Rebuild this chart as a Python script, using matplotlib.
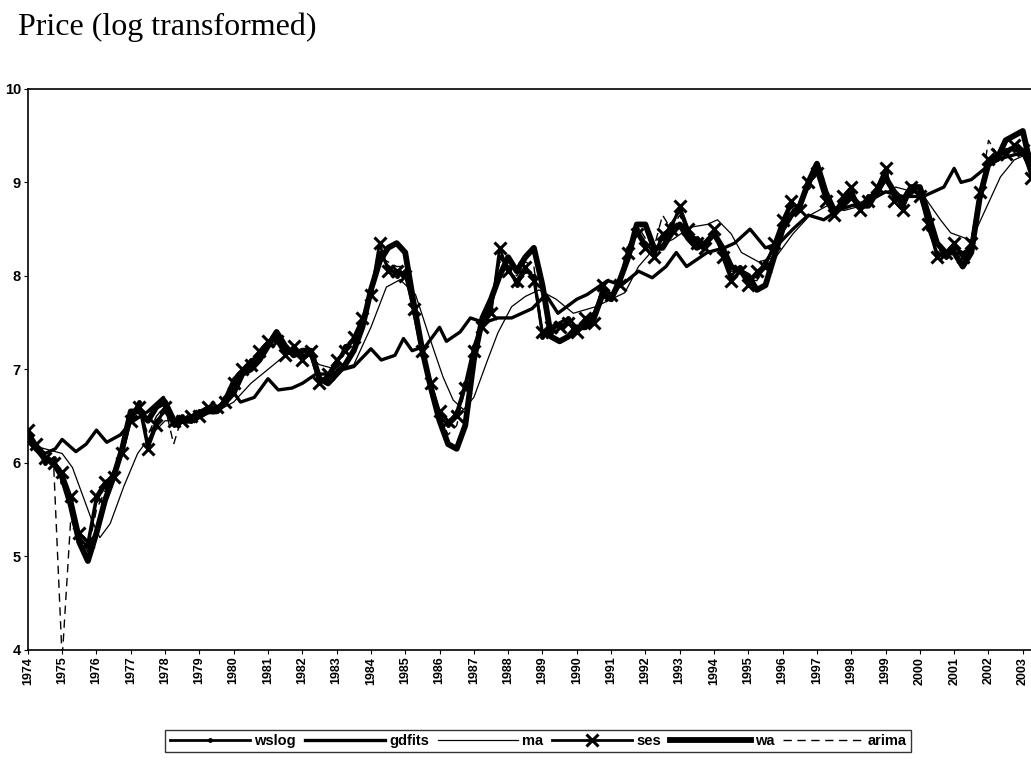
import numpy as np
import matplotlib
matplotlib.use("Agg")
import matplotlib.pyplot as plt

# quarterly grid 1974.00 .. 2003.50
t = np.arange(1974.0, 2003.51, 0.25)

wslog = [6.30, 6.15, 6.00, 6.05, 5.80, 5.60, 5.20, 5.10, 5.60, 5.75, 5.90, 6.15,
         6.50, 6.65, 6.20, 6.45, 6.55, 6.40, 6.50, 6.45, 6.55, 6.60, 6.55, 6.70,
         6.90, 7.00, 7.10, 7.15, 7.30, 7.35, 7.20, 7.20, 7.15, 7.15, 6.85, 6.90,
         7.05, 7.25, 7.30, 7.50, 7.85, 8.25, 8.10, 8.00, 8.05, 7.60, 7.15, 6.80,
         6.50, 6.40, 6.55, 6.85, 7.25, 7.50, 7.65, 8.20, 8.10, 7.90, 8.05, 8.00,
         7.35, 7.40, 7.50, 7.55, 7.45, 7.50, 7.60, 7.85, 7.75, 7.95, 8.30, 8.50,
         8.35, 8.25, 8.40, 8.55, 8.70, 8.45, 8.40, 8.35, 8.45, 8.25, 8.00, 8.10,
         7.95, 8.00, 8.15, 8.30, 8.55, 8.75, 8.75, 8.95, 9.15, 8.85, 8.70, 8.80,
         8.90, 8.75, 8.85, 8.90, 9.10, 8.85, 8.75, 8.90, 8.90, 8.50, 8.25, 8.20,
         8.30, 8.25, 8.30, 8.85, 9.20, 9.25, 9.35, 9.35, 9.30, 9.10, 8.95]

ses = [6.35, 6.20, 6.05, 6.00, 5.90, 5.65, 5.25, 5.15, 5.65, 5.80, 5.85, 6.10,
       6.45, 6.60, 6.15, 6.40, 6.60, 6.45, 6.45, 6.50, 6.50, 6.60, 6.60, 6.65,
       6.85, 7.00, 7.05, 7.20, 7.30, 7.30, 7.15, 7.25, 7.10, 7.20, 6.85, 6.95,
       7.10, 7.20, 7.35, 7.55, 7.80, 8.35, 8.05, 8.05, 8.00, 7.65, 7.20, 6.85,
       6.55, 6.45, 6.50, 6.80, 7.20, 7.45, 7.60, 8.30, 8.05, 7.95, 8.10, 7.95,
       7.40, 7.45, 7.45, 7.50, 7.40, 7.55, 7.50, 7.90, 7.80, 7.90, 8.25, 8.45,
       8.30, 8.20, 8.45, 8.50, 8.75, 8.50, 8.35, 8.30, 8.50, 8.20, 7.95, 8.05,
       7.90, 8.05, 8.10, 8.35, 8.60, 8.80, 8.70, 9.00, 9.10, 8.80, 8.65, 8.85,
       8.95, 8.70, 8.80, 8.95, 9.15, 8.80, 8.70, 8.95, 8.85, 8.55, 8.20, 8.25,
       8.35, 8.20, 8.35, 8.90, 9.25, 9.30, 9.30, 9.40, 9.35, 9.05, 8.90]

wa = [6.25, 6.15, 6.05, 6.00, 5.85, 5.55, 5.15, 4.95, 5.25, 5.60, 5.85, 6.15,
      6.55, 6.55, 6.45, 6.60, 6.65, 6.45, 6.45, 6.45, 6.50, 6.55, 6.55, 6.65,
      6.75, 6.95, 7.00, 7.10, 7.25, 7.40, 7.25, 7.15, 7.20, 7.20, 6.90, 6.85,
      6.95, 7.05, 7.20, 7.45, 7.85, 8.15, 8.30, 8.35, 8.25, 7.70, 7.20, 6.80,
      6.45, 6.20, 6.15, 6.40, 7.10, 7.55, 7.75, 8.00, 8.20, 8.05, 8.20, 8.30,
      7.90, 7.35, 7.30, 7.35, 7.45, 7.45, 7.55, 7.80, 7.75, 7.95, 8.20, 8.55,
      8.55, 8.30, 8.30, 8.45, 8.55, 8.40, 8.30, 8.35, 8.45, 8.30, 8.10, 8.05,
      8.00, 7.85, 7.90, 8.20, 8.50, 8.65, 8.75, 9.00, 9.20, 8.90, 8.70, 8.75,
      8.85, 8.75, 8.75, 8.90, 9.05, 8.90, 8.80, 8.95, 8.95, 8.65, 8.35, 8.25,
      8.25, 8.10, 8.25, 8.85, 9.20, 9.25, 9.45, 9.50, 9.55, 9.15, 9.00]

arima = [6.25, 6.20, 6.05, 6.00, 3.90, 5.40, 5.20, 5.05, 5.50, 5.70, 5.90, 6.10,
         6.50, 6.60, 6.30, 6.50, 6.60, 6.20, 6.50, 6.45, 6.50, 6.60, 6.55, 6.65,
         6.80, 7.00, 7.05, 7.15, 7.30, 7.35, 7.20, 7.20, 7.15, 7.20, 6.90, 6.90,
         7.00, 7.20, 7.30, 7.50, 7.80, 8.20, 8.15, 8.10, 8.10, 7.70, 7.20, 6.80,
         6.50, 6.30, 6.40, 6.80, 7.20, 7.50, 7.70, 8.15, 8.10, 8.00, 8.15, 8.10,
         7.40, 7.35, 7.45, 7.50, 7.45, 7.50, 7.55, 7.85, 7.80, 7.95, 8.25, 8.55,
         8.40, 8.30, 8.65, 8.50, 8.65, 8.45, 8.35, 8.35, 8.45, 8.25, 8.05, 8.05,
         7.95, 7.95, 8.10, 8.30, 8.55, 8.70, 8.75, 9.00, 9.15, 8.85, 8.70, 8.80,
         8.90, 8.75, 8.80, 8.90, 9.10, 8.85, 8.75, 8.90, 8.90, 8.55, 8.30, 8.20,
         8.30, 8.20, 8.30, 8.85, 9.45, 9.30, 9.35, 9.40, 9.35, 9.10, 8.95]

gd_t = [1974.0, 1974.5, 1974.8, 1975.0, 1975.4, 1975.7, 1976.0, 1976.3, 1976.7, 1977.0,
        1977.5, 1977.95, 1978.3, 1978.8, 1979.3, 1979.8, 1980.0, 1980.2, 1980.6, 1981.0,
        1981.3, 1981.7, 1982.0, 1982.4, 1982.8, 1983.2, 1983.5, 1984.0, 1984.3, 1984.7,
        1984.95, 1985.2, 1985.6, 1986.0, 1986.2, 1986.6, 1986.9, 1987.3, 1987.7, 1988.1,
        1988.7, 1989.1, 1989.45, 1990.0, 1990.3, 1990.9, 1991.3, 1991.8, 1992.2, 1992.6,
        1992.9, 1993.2, 1993.8, 1994.3, 1994.6, 1995.05, 1995.5, 1995.9, 1996.3, 1996.75,
        1997.2, 1997.6, 1998.0, 1998.5, 1999.0, 1999.5, 2000.1, 2000.7, 2001.0, 2001.2,
        2001.5, 2001.9, 2002.3, 2002.8, 2003.2, 2003.5]
gdfits = [6.25, 6.10, 6.15, 6.25, 6.12, 6.20, 6.35, 6.22, 6.30, 6.43,
          6.55, 6.70, 6.45, 6.45, 6.55, 6.65, 6.75, 6.65, 6.70, 6.90,
          6.78, 6.80, 6.85, 6.95, 6.95, 7.00, 7.03, 7.22, 7.10, 7.15,
          7.33, 7.20, 7.25, 7.45, 7.30, 7.40, 7.55, 7.50, 7.55, 7.55,
          7.65, 7.80, 7.60, 7.75, 7.80, 7.95, 7.90, 8.05, 7.98, 8.10,
          8.25, 8.10, 8.25, 8.30, 8.35, 8.50, 8.30, 8.35, 8.50, 8.65,
          8.60, 8.70, 8.75, 8.80, 8.90, 8.85, 8.85, 8.95, 9.15, 9.00,
          9.03, 9.15, 9.25, 9.30, 9.30, 9.15]

ma_t = [1974.0, 1974.5, 1975.0, 1975.3, 1975.6, 1975.85, 1976.1, 1976.4, 1976.8, 1977.2,
        1977.6, 1978.0, 1978.5, 1979.0, 1979.5, 1980.0, 1980.5, 1981.0, 1981.5, 1982.0,
        1982.5, 1983.0, 1983.5, 1984.0, 1984.45, 1984.85, 1985.3, 1985.7, 1986.1, 1986.4,
        1986.7, 1987.0, 1987.4, 1987.7, 1988.1, 1988.5, 1988.9, 1989.4, 1989.9, 1990.55,
        1991.0, 1991.4, 1991.8, 1992.3, 1992.8, 1993.3, 1993.8, 1994.1, 1994.5, 1994.8,
        1995.3, 1995.8, 1996.3, 1996.8, 1997.3, 1997.8, 1998.3, 1998.8, 1999.3, 1999.8,
        2000.2, 2000.6, 2000.9, 2001.5, 2001.95, 2002.35, 2002.75, 2003.1, 2003.5]
ma = [6.20, 6.15, 6.10, 5.95, 5.65, 5.40, 5.20, 5.35, 5.75, 6.10,
      6.30, 6.45, 6.45, 6.50, 6.55, 6.65, 6.85, 7.00, 7.15, 7.20,
      7.05, 7.00, 7.05, 7.45, 7.88, 7.96, 7.80, 7.35, 6.92, 6.67,
      6.57, 6.70, 7.10, 7.39, 7.67, 7.78, 7.85, 7.75, 7.60, 7.67,
      7.75, 7.82, 8.10, 8.31, 8.39, 8.52, 8.55, 8.60, 8.45, 8.25,
      8.15, 8.20, 8.45, 8.65, 8.75, 8.70, 8.75, 8.85, 8.95, 8.90,
      8.81, 8.60, 8.46, 8.38, 8.74, 9.06, 9.24, 9.30, 9.10]

years = list(range(1974, 2004))
yvals = [4, 5, 6, 7, 8, 9, 10]

fig = plt.figure(figsize=(10.31, 7.6), dpi=100)
ax = fig.add_axes([0.027, 0.145, 0.985, 0.738])

ax.plot(t, wslog, color="black", lw=2, marker=".", ms=5, label="wslog", zorder=4)
ax.plot(gd_t, gdfits, color="black", lw=2.4, label="gdfits", zorder=3)
ax.plot(ma_t, ma, color="black", lw=0.9, label="ma", zorder=3)
ax.plot(t, ses, color="black", lw=2, marker="x", ms=8, mew=2.2, label="ses", zorder=5)
ax.plot(t, wa, color="black", lw=4.2, label="wa", zorder=4)
ax.plot(t, arima, color="black", lw=1, ls=(0, (6, 4)), label="arima", zorder=6)

ax.set_xlim(1974, 2003.6)
ax.set_ylim(4, 10)
ax.set_yticks(yvals)
ax.set_yticklabels([str(v) for v in yvals], fontsize=10.5, fontweight="bold",
                   family="Liberation Sans")
ax.set_xticks(years)
ax.set_xticklabels([str(y) for y in years], rotation=90, fontsize=9, fontweight="bold",
                   family="Liberation Sans")
ax.tick_params(axis="both", length=3, width=0.8, pad=2)
ax.spines["right"].set_visible(False)
for s in ["left", "top", "bottom"]:
    ax.spines[s].set_linewidth(1.2)

fig.text(0.017, 0.964, "Price (log transformed)", family="Liberation Serif", fontsize=23,
         va="center", ha="left")

leg = fig.legend(loc="center", bbox_to_anchor=(0.522, 0.025), ncol=6, frameon=True,
                 fancybox=False, edgecolor="black", handlelength=5.5, columnspacing=0.6,
                 handletextpad=0.3, borderpad=0.3,
                 prop={"family": "Liberation Sans", "weight": "bold", "size": 10.5})
leg.get_frame().set_linewidth(1.0)

fig.savefig("out.png", dpi=100)
